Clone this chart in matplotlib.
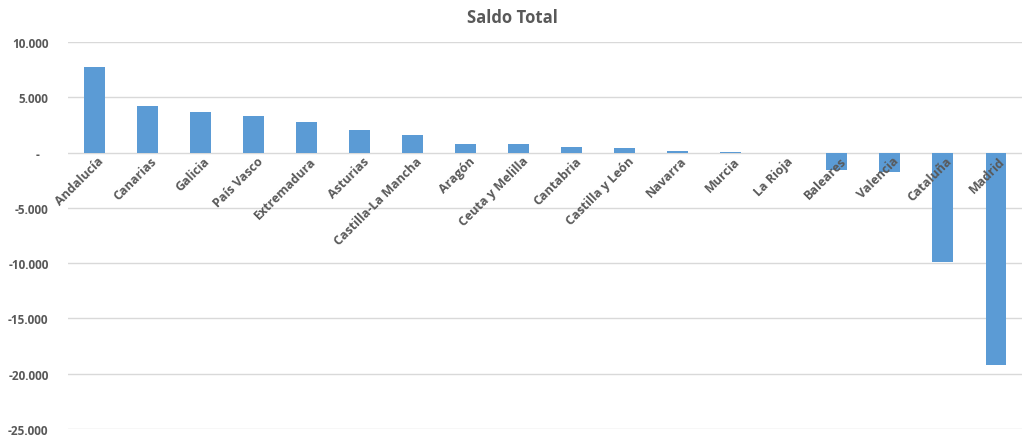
import matplotlib.pyplot as plt
from matplotlib.ticker import FuncFormatter
import numpy as np

# Saldo total por comunidad autónoma
regiones = ['Andalucía', 'Canarias', 'Galicia', 'País Vasco', 'Extremadura',
            'Asturias', 'Castilla-La Mancha', 'Aragón', 'Ceuta y Melilla',
            'Cantabria', 'Castilla y León', 'Navarra', 'Murcia', 'La Rioja',
            'Baleares', 'Valencia', 'Cataluña', 'Madrid']
saldo = [7700, 4250, 3650, 3350, 2780, 2050, 1630, 820, 750,
         480, 390, 100, 80, 0, -1600, -1780, -9870, -19200]

yticks = [10000, 5000, 0, -5000, -10000, -15000, -20000, -25000]

bar_color = '#5B9BD5'
text_color = '#595959'
font = 'Open Sans'

def fmt(v, pos):
    if v == 0:
        return '-   '
    return '{:,.0f}'.format(v).replace(',', '.')

fig = plt.figure(figsize=(10.24, 4.39), dpi=100)
ax = fig.add_axes([0.0664, 0.0205, 0.932, 0.8815])

x = np.arange(len(regiones))
ax.bar(x, saldo, width=0.39, color=bar_color, zorder=3)

ax.set_xlim(-0.5, len(regiones) - 0.5)
ax.set_ylim(-25000, 10000)
ax.set_yticks(yticks)
ax.yaxis.set_major_formatter(FuncFormatter(fmt))
ax.set_xticks([])
ax.grid(axis='y', color='#D9D9D9', linewidth=1, zorder=0)
ax.tick_params(axis='y', length=0, pad=14, labelsize=8.5, labelcolor=text_color)
for lab in ax.get_yticklabels():
    lab.set_fontfamily(font)
    lab.set_fontweight('bold')
for s in ax.spines.values():
    s.set_visible(False)

# category labels rotated under the zero line
for i, name in enumerate(regiones):
    ax.text(i + 0.14, -550, name, rotation=45, rotation_mode='anchor',
            ha='right', va='center', fontsize=9, color=text_color,
            fontfamily=font, fontweight='bold', zorder=4)

fig.text(0.5, 0.958, 'Saldo Total', ha='center', va='center', fontsize=12,
         color=text_color, fontfamily=font, fontweight='bold')

fig.savefig('out.png', dpi=100)
